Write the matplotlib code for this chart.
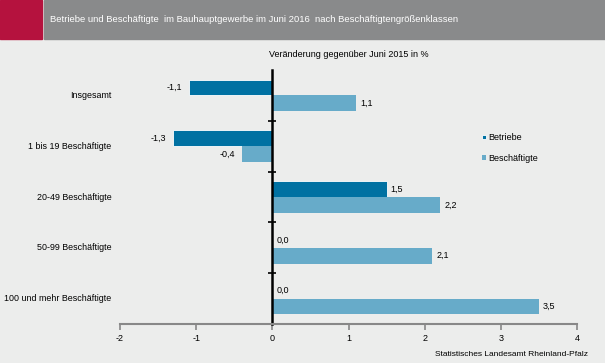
import matplotlib.pyplot as plt
import matplotlib.patches as mpatches
import numpy as np

plt.rcParams['font.family'] = ['Liberation Sans', 'DejaVu Sans']

categories = ['Insgesamt', '1 bis 19 Beschäftigte', '20-49 Beschäftigte',
              '50-99 Beschäftigte', '100 und mehr Beschäftigte']
betriebe = [-1.1, -1.3, 1.5, 0.0, 0.0]
beschaeftigte = [1.1, -0.4, 2.2, 2.1, 3.5]
xticks = [-2, -1, 0, 1, 2, 3, 4]

bg = '#ECEDEC'
col_betr = '#0071A2'
col_besch = '#67ABC9'

fig = plt.figure(figsize=(6.05, 3.63), dpi=100, facecolor=bg)

# header band
fig.patches.append(mpatches.Rectangle((0, 1 - 39 / 363), 42 / 605, 39 / 363,
                                      transform=fig.transFigure, color='#B5123E'))
fig.patches.append(mpatches.Rectangle((44 / 605, 1 - 39 / 363), 1, 39 / 363,
                                      transform=fig.transFigure, color='#898A8B'))
fig.text(50 / 605, 1 - 20 / 363,
         'Betriebe und Beschäftigte  im Bauhauptgewerbe im Juni 2016  nach Beschäftigtengrößenklassen',
         color='white', fontsize=6.8, va='center', ha='left')

ax = fig.add_axes([120 / 605, 39 / 363, 457 / 605, 254 / 363])
ax.set_facecolor(bg)

y = np.arange(len(categories))
h = 0.31
ax.barh(y - h / 2, betriebe, height=h, color=col_betr, label='Betriebe',
        edgecolor='white', linewidth=0.6)
ax.barh(y + h / 2, beschaeftigte, height=h, color=col_besch, label='Beschäftigte')

def fmt(v):
    return ('%.1f' % v).replace('.', ',')

for i in range(len(categories)):
    for v, yy in ((betriebe[i], y[i] - h / 2), (beschaeftigte[i], y[i] + h / 2)):
        if v < 0:
            ax.annotate(fmt(v), (v, yy), xytext=(-5, 0), textcoords='offset points',
                        ha='right', va='center', fontsize=6.5)
        else:
            ax.annotate(fmt(v), (v, yy), xytext=(3, 0), textcoords='offset points',
                        ha='left', va='center', fontsize=6.5)
    ax.annotate(categories[i], (-2, y[i]), xytext=(-6, 0), textcoords='offset points',
                ha='right', va='center', fontsize=6.4)

ax.set_xlim(-2, 4)
ax.set_ylim(len(categories) - 0.5, -0.5)
ax.set_xticks(xticks)
ax.set_xticklabels([str(t) for t in xticks], fontsize=6.5)
ax.tick_params(axis='x', colors='#888888', labelcolor='black', length=4, width=1.2)

ax.spines['top'].set_visible(False)
ax.spines['right'].set_visible(False)
ax.spines['bottom'].set_color('#888888')
ax.spines['bottom'].set_linewidth(1.5)
ax.spines['left'].set_position(('data', 0))
ax.spines['left'].set_linewidth(1.8)
ax.set_yticks(np.arange(len(categories)) + 0.5)
ax.set_yticklabels([])
ax.tick_params(axis='y', direction='inout', length=6, width=1.2)

ax.text(0.5, 1.06, 'Veränderung gegenüber Juni 2015 in %', transform=ax.transAxes,
        ha='center', va='center', fontsize=6.5)

leg = ax.legend(loc='upper left', bbox_to_anchor=(354 / 457, 1 - 55 / 254),
                frameon=False, fontsize=6.5, handlelength=0.4, handleheight=0.4,
                handletextpad=0.3, labelspacing=1.3)

fig.text(588 / 605, 1 - 355 / 363, 'Statistisches Landesamt Rheinland-Pfalz',
         ha='right', va='center', fontsize=6)

fig.savefig('out.png', dpi=100, facecolor=bg)
